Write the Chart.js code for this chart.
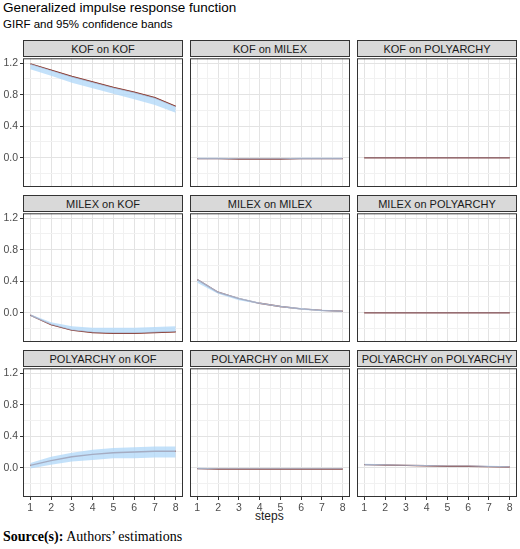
<!DOCTYPE html><html><head><script src="https://cdn.jsdelivr.net/npm/chart.js@4"></script>
<style>body{margin:0;background:#fff;font-family:Arial,"Liberation Sans",sans-serif;}
.t{position:absolute;color:#000}
.strip{position:absolute;height:17px;background:#d9d9d9;border:1px solid #333;box-sizing:border-box;font-size:11px;color:#1a1a1a;text-align:center;line-height:16px}
canvas{position:absolute}</style></head><body>
<div class="t" style="left:3px;top:0px;font-size:13.5px">Generalized impulse response function</div>
<div class="t" style="left:3px;top:18px;font-size:11.5px">GIRF and 95% confidence bands</div>
<div class="t" style="left:255px;top:509px;font-size:12px;color:#1a1a1a">steps</div>
<div class="t" style="left:3px;top:529px;font-size:14px;font-family:'Liberation Serif',serif"><b>Source(s):</b> Authors’ estimations</div>
<script>
const steps=[1,2,3,4,5,6,7,8];
const titles=["KOF on KOF","KOF on MILEX","KOF on POLYARCHY","MILEX on KOF","MILEX on MILEX","MILEX on POLYARCHY","POLYARCHY on KOF","POLYARCHY on MILEX","POLYARCHY on POLYARCHY"];
const girf=[
[1.19,1.11,1.03,0.96,0.89,0.83,0.76,0.65],
[-0.01,-0.01,-0.015,-0.015,-0.015,-0.01,-0.01,-0.01],
[0,0,0,0,0,0,0,0],
[-0.03,-0.15,-0.22,-0.25,-0.26,-0.26,-0.25,-0.24],
[0.42,0.26,0.18,0.12,0.08,0.05,0.03,0.02],
[0,0,0,0,0,0,0,0],
[0.03,0.09,0.14,0.17,0.19,0.20,0.21,0.21],
[-0.01,-0.015,-0.015,-0.015,-0.015,-0.015,-0.015,-0.015],
[0.04,0.035,0.03,0.025,0.02,0.02,0.015,0.01]];
const lower=[
[1.12,1.04,0.95,0.88,0.81,0.74,0.67,0.57],
[-0.02,-0.02,-0.02,-0.02,-0.02,-0.02,-0.02,-0.02],
[-0.005,-0.005,-0.005,-0.005,-0.005,-0.005,-0.005,-0.005],
[-0.04,-0.15,-0.22,-0.25,-0.26,-0.26,-0.25,-0.24],
[0.38,0.24,0.16,0.11,0.07,0.04,0.02,0.01],
[-0.005,-0.005,-0.005,-0.005,-0.005,-0.005,-0.005,-0.005],
[-0.01,0.04,0.08,0.10,0.12,0.12,0.13,0.13],
[-0.02,-0.02,-0.02,-0.02,-0.02,-0.02,-0.02,-0.02],
[0.03,0.03,0.025,0.02,0.015,0.015,0.01,0.005]];
const upper=[
[1.19,1.11,1.03,0.96,0.89,0.83,0.76,0.65],
[0,0,-0.005,-0.005,-0.005,0,0,0],
[0.005,0.005,0.005,0.005,0.005,0.005,0.005,0.005],
[-0.02,-0.12,-0.17,-0.19,-0.19,-0.19,-0.18,-0.17],
[0.43,0.27,0.19,0.13,0.09,0.06,0.04,0.03],
[0.005,0.005,0.005,0.005,0.005,0.005,0.005,0.005],
[0.06,0.14,0.19,0.23,0.25,0.26,0.27,0.27],
[0,-0.005,-0.005,-0.005,-0.005,-0.005,-0.005,-0.005],
[0.05,0.045,0.04,0.035,0.03,0.03,0.025,0.02]];
const colX=[23,190,357],rowY=[58,213,368],W=160,H=129,LW=23,BH=20;
const border={id:'b',afterDraw(c){const a=c.chartArea,x=c.ctx;x.save();x.strokeStyle='#333';x.lineWidth=1;x.strokeRect(a.left+0.5,a.top+0.5,a.right-a.left-1,a.bottom-a.top-1);x.restore();}};
titles.forEach((t,k)=>{
 const r=Math.floor(k/3),c=k%3,left=c===0,bot=r===2;
 const s=document.createElement('div');s.className='strip';
 s.style.left=colX[c]+'px';s.style.top=(rowY[r]-18)+'px';s.style.width=W+'px';s.textContent=t;document.body.appendChild(s);
 const cv=document.createElement('canvas');
 cv.style.left=(colX[c]-LW)+'px';cv.style.top=(rowY[r]-8)+'px';cv.width=W+LW;cv.height=H+BH+8;
 document.body.appendChild(cv);
 const pts=a=>a.map((v,i)=>({x:steps[i],y:v}));
 new Chart(cv,{type:'line',data:{datasets:[
  {data:pts(lower[k]),borderWidth:0,pointRadius:0,fill:false},
  {data:pts(upper[k]),borderWidth:0,pointRadius:0,fill:'-1',backgroundColor:'rgba(175,215,248,0.75)'},
  {data:pts(girf[k]),borderColor:'#862e22',borderWidth:1.4,pointRadius:0,fill:false}]},
  options:{responsive:false,animation:false,devicePixelRatio:1,layout:{padding:{top:8,left:0,right:0,bottom:0}},
   plugins:{legend:{display:false},tooltip:{enabled:false}},
   scales:{
    x:{type:'linear',min:0.65,max:8.35,border:{display:false},
     grid:{color:ctx=>Number.isInteger(ctx.tick.value)?'#e3e3e3':'#f1f1f1',tickLength:3,tickColor:ctx=>bot&&Number.isInteger(ctx.tick.value)?'#333':'rgba(0,0,0,0)'},
     afterBuildTicks:s=>{s.ticks=[];for(let v=1;v<=8;v+=0.5)s.ticks.push({value:v});},
     ticks:{color:bot?'#4d4d4d':'rgba(0,0,0,0)',font:{size:10.5},padding:2,autoSkip:false,maxRotation:0,callback:v=>Number.isInteger(v)?v:''},
     afterFit:s=>{s.height=BH;}},
    y:{min:-0.37,max:1.26,border:{display:false},
     grid:{color:ctx=>Math.round(ctx.tick.value*10)%4===0?'#e3e3e3':'#f1f1f1',tickLength:3,tickColor:ctx=>left&&Math.round(ctx.tick.value*10)%4===0?'#333':'rgba(0,0,0,0)'},
     afterBuildTicks:s=>{s.ticks=[];for(let i=-1;i<=6;i++)s.ticks.push({value:+(i*0.2).toFixed(1)});},
     ticks:{color:left?'#4d4d4d':'rgba(0,0,0,0)',font:{size:10.5},padding:2,autoSkip:false,callback:v=>{const n=Math.round(v*10);return n%4===0?(n/10).toFixed(1):'';}},
     afterFit:s=>{s.width=LW;}}}},plugins:[border]});
});
</script></body></html>
